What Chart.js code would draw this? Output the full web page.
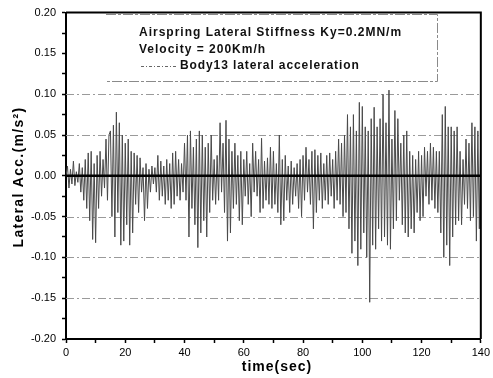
<!DOCTYPE html>
<html>
<head>
<meta charset="utf-8">
<script src="https://cdn.jsdelivr.net/npm/chart.js@4/dist/chart.umd.min.js"></script>
<style>
  html, body { margin: 0; padding: 0; background: #fff; }
  canvas { display: block; }
</style>
</head>
<body>
<canvas id="accChart" width="493" height="378"></canvas>
<script>
// time axis: one sample every 0.5 s, 0 .. 140 s
var timeStart = 0;
var timeStep = 0.5;

// lateral acceleration (m/s^2)
var lateralAcc = [
  0.000, 0.012, -0.015, 0.008, -0.010, 0.018, -0.012, 0.005, -0.008, 0.015,
  -0.020, 0.010, -0.030, 0.020, -0.040, 0.028, -0.055, 0.030, -0.078, 0.015,
  -0.082, 0.025, -0.040, 0.030, -0.025, 0.020, -0.015, 0.045, -0.030, 0.050,
  0.055, -0.050, 0.062, -0.075, 0.078, -0.045, 0.065, -0.085, 0.050, -0.080,
  0.040, -0.060, 0.045, -0.085, 0.030, -0.070, 0.028, -0.035, 0.025, -0.045,
  0.022, -0.020, 0.010, -0.055, 0.015, -0.040, 0.008, -0.020, 0.012, -0.010,
  0.010, -0.020, 0.025, -0.030, 0.018, -0.025, 0.012, -0.035, 0.020, -0.030,
  0.015, -0.040, 0.028, -0.035, 0.030, -0.025, 0.020, -0.030, 0.015, -0.020,
  0.040, -0.030, 0.050, -0.075, 0.055, -0.040, 0.035, -0.060, 0.045, -0.088,
  0.055, -0.070, 0.050, -0.055, 0.035, -0.075, 0.040, -0.045, 0.050, -0.030,
  0.020, -0.035, 0.025, -0.030, 0.065, -0.020, 0.040, -0.045, 0.068, -0.080,
  0.045, -0.070, 0.030, -0.040, 0.040, -0.035, 0.025, -0.055, 0.030, -0.060,
  0.020, -0.025, 0.030, -0.035, 0.015, -0.050, 0.040, -0.020, 0.030, -0.025,
  0.020, -0.045, 0.046, -0.040, 0.018, -0.030, 0.022, -0.035, 0.035, -0.040,
  0.030, -0.035, 0.015, -0.045, 0.050, -0.060, 0.020, -0.055, 0.025, -0.030,
  0.012, -0.045, 0.018, -0.035, 0.010, -0.025, 0.015, -0.040, 0.020, -0.050,
  0.025, -0.030, 0.035, -0.020, 0.020, -0.035, 0.030, -0.065, 0.032, -0.045,
  0.025, -0.030, 0.028, -0.040, 0.015, -0.030, 0.025, -0.035, 0.028, -0.025,
  0.020, -0.040, 0.030, -0.030, 0.045, -0.035, 0.040, -0.050, 0.050, -0.045,
  0.075, -0.065, 0.060, -0.095, 0.075, -0.080, 0.055, -0.110, 0.090, -0.090,
  0.085, -0.070, 0.060, -0.100, 0.055, -0.155, 0.070, -0.085, 0.084, -0.090,
  0.060, -0.065, 0.070, -0.080, 0.100, -0.075, 0.065, -0.085, 0.105, -0.090,
  0.045, -0.065, 0.080, -0.055, 0.070, -0.030, 0.040, -0.060, 0.050, -0.070,
  0.055, -0.075, 0.030, -0.065, 0.025, -0.070, 0.020, -0.045, 0.030, -0.055,
  0.025, -0.050, 0.035, -0.025, 0.030, -0.035, 0.040, -0.030, 0.035, -0.040,
  0.030, -0.045, 0.030, -0.070, 0.075, -0.100, 0.085, -0.085, 0.060, -0.110,
  0.060, -0.075, 0.055, -0.060, 0.060, -0.055, 0.030, -0.060, 0.020, -0.035,
  0.045, -0.040, 0.040, -0.055, 0.065, -0.050, 0.060, -0.080, 0.055, -0.065,
  0.060
];

var times = lateralAcc.map(function(v, i) { return timeStart + i * timeStep; });

var xTickMin = 0, xTickMax = 140, xTickStep = 10;
var yTickMin = -0.2, yTickMax = 0.2, yTickStep = 0.025;
var dashedLevels = [0.10, 0.05, -0.05, -0.10, -0.15];

var titleLines = ['Airspring Lateral Stiffness Ky=0.2MN/m', 'Velocity = 200Km/h'];
var seriesLabel = 'Body13 lateral acceleration';
var xTitle = 'time(sec)';
var yTitle = 'Lateral Acc.(m/s\u00B2)';

var FONT = 'Arial, "Liberation Sans", sans-serif';

// frame, zero line, faint dashed levels, legend box and axis titles
var decorPlugin = {
  id: 'decor',
  beforeDatasetsDraw: function(chart) {
    var ctx = chart.ctx, a = chart.chartArea, y = chart.scales.y;
    ctx.save();
    ctx.strokeStyle = '#9a9a9a';
    ctx.lineWidth = 1;
    ctx.setLineDash([8, 3, 2, 3]);
    dashedLevels.forEach(function(v) {
      var py = Math.round(y.getPixelForValue(v)) + 0.5;
      ctx.beginPath();
      ctx.moveTo(a.left, py);
      ctx.lineTo(a.right, py);
      ctx.stroke();
    });
    ctx.restore();
  },
  afterDatasetsDraw: function(chart) {
    var ctx = chart.ctx, a = chart.chartArea, y = chart.scales.y;
    ctx.save();
    // zero line
    ctx.strokeStyle = '#000';
    ctx.lineWidth = 2.5;
    var y0 = y.getPixelForValue(0);
    ctx.beginPath();
    ctx.moveTo(a.left, y0);
    ctx.lineTo(a.right, y0);
    ctx.stroke();
    // top and right of the frame
    ctx.lineWidth = 2;
    ctx.beginPath();
    ctx.moveTo(a.left, a.top);
    ctx.lineTo(a.right, a.top);
    ctx.lineTo(a.right, a.bottom);
    ctx.stroke();

    // legend box
    ctx.strokeStyle = '#8a8a8a';
    ctx.lineWidth = 1;
    ctx.setLineDash([10, 2, 3, 2]);
    ctx.beginPath();
    ctx.moveTo(106, 14.5);
    ctx.lineTo(437.5, 14.5);
    ctx.lineTo(437.5, 81.5);
    ctx.lineTo(106, 81.5);
    ctx.stroke();
    ctx.setLineDash([]);

    ctx.fillStyle = '#111';
    ctx.textBaseline = 'middle';
    ctx.textAlign = 'left';
    ctx.font = 'bold 12px ' + FONT;
    ctx.letterSpacing = '1px';
    ctx.fillText(titleLines[0], 139, 33);
    ctx.fillText(titleLines[1], 139, 49.5);
    ctx.letterSpacing = '0.9px';
    ctx.fillText(seriesLabel, 180, 65.5);
    ctx.letterSpacing = '0px';
    ctx.strokeStyle = '#666';
    ctx.setLineDash([3, 2, 1, 2]);
    ctx.beginPath();
    ctx.moveTo(141, 66.5);
    ctx.lineTo(176, 66.5);
    ctx.stroke();
    ctx.setLineDash([]);

    // axis titles
    ctx.fillStyle = '#000';
    ctx.textAlign = 'center';
    ctx.font = 'bold 14px ' + FONT;
    ctx.letterSpacing = '1px';
    ctx.fillText(xTitle, 277, 367);
    ctx.translate(19, 177);
    ctx.rotate(-Math.PI / 2);
    ctx.font = 'bold 14px ' + FONT;
    ctx.letterSpacing = '1.3px';
    ctx.fillText(yTitle, 0, 0);
    ctx.restore();
  }
};

var ctx = document.getElementById('accChart').getContext('2d');

new Chart(ctx, {
  type: 'line',
  data: {
    datasets: [{
      label: seriesLabel,
      data: times.map(function(t, i) { return { x: t, y: lateralAcc[i] }; }),
      borderColor: '#4a4a4a',
      borderWidth: 1,
      pointRadius: 0,
      tension: 0
    }]
  },
  options: {
    responsive: false,
    animation: false,
    devicePixelRatio: 1,
    layout: { padding: { top: 12, right: 10, left: 0, bottom: 0 } },
    plugins: {
      legend: { display: false },
      tooltip: { enabled: false }
    },
    scales: {
      x: {
        type: 'linear',
        min: xTickMin,
        max: xTickMax,
        afterFit: function(s) { s.height = 39; },
        ticks: {
          stepSize: xTickStep,
          autoSkip: false,
          maxRotation: 0,
          padding: 3,
          color: '#000',
          font: { family: FONT, size: 11 },
          callback: function(v) { return v % 20 === 0 ? String(v) : ''; }
        },
        grid: { drawOnChartArea: false, tickLength: 4, tickColor: '#000', tickWidth: 1.5 },
        border: { color: '#000', width: 2 }
      },
      y: {
        min: yTickMin,
        max: yTickMax,
        afterFit: function(s) { s.width = 66; },
        ticks: {
          stepSize: yTickStep,
          autoSkip: false,
          padding: 6,
          color: '#000',
          font: { family: FONT, size: 11 },
          callback: function(v) {
            var m = Math.round(v * 1000);
            return m % 50 === 0 ? (m / 1000).toFixed(2) : '';
          }
        },
        grid: { drawOnChartArea: false, tickLength: 4, tickColor: '#000', tickWidth: 1.5 },
        border: { color: '#000', width: 2 }
      }
    }
  },
  plugins: [decorPlugin]
});
</script>
</body>
</html>
